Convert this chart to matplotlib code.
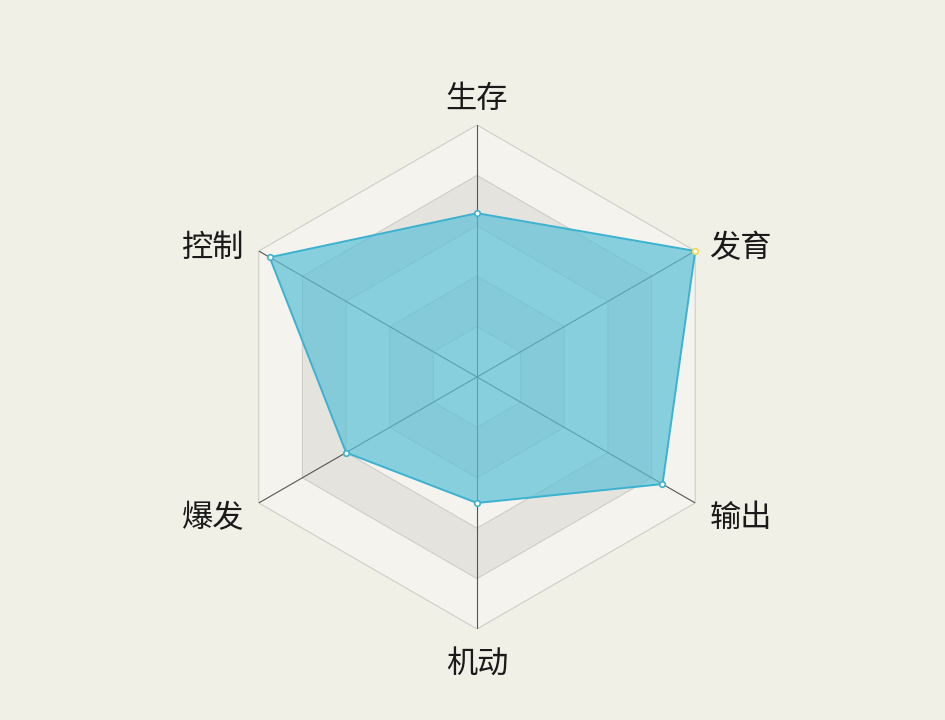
import matplotlib.pyplot as plt
import numpy as np

plt.rcParams['font.family'] = ['Noto Sans CJK SC', 'DejaVu Sans']

# axes clockwise from the top
labels = ['生存', '发育', '输出', '机动', '爆发', '控制']
values = [0.65, 1.0, 0.85, 0.50, 0.60, 0.95]
ring_levels = [0.2, 0.4, 0.6, 0.8, 1.0]
r_max = 1.0

bg = '#f1f0e7'
ring_light = '#f4f3ee'
ring_dark = '#e5e3dd'
fill_col = '#5bc0d8'
edge_col = '#3cb2d0'

fig = plt.figure(figsize=(9.4501, 7.2001), dpi=100, facecolor=bg)
ax = fig.add_axes([0.2381, 0.1264, 0.5333, 0.7], projection='polar')
ax.set_facecolor('none')
ax.set_theta_zero_location('N')
ax.set_theta_direction(-1)
ax.set_ylim(0, r_max)

n = len(labels)
theta = np.arange(n) * 2 * np.pi / n
theta_c = np.append(theta, theta[0])

# split areas, outermost first so inner rings paint over
for i, lv in reversed(list(enumerate(ring_levels))):
    col = ring_light if i % 2 == 0 else ring_dark
    ax.fill(theta_c, [lv] * (n + 1), color=col, lw=0, zorder=1)
for lv in ring_levels:
    ax.plot(theta_c, [lv] * (n + 1), color='#cfcdc6', lw=0.8, zorder=2)

# axis lines
for t in theta:
    ax.plot([t, t], [0, r_max], color='#555555', lw=0.8, zorder=3)

# data
v_c = np.append(values, values[0])
ax.fill(theta_c, v_c, color=fill_col, alpha=0.7, lw=0, zorder=4)
ax.plot(theta_c, v_c, color=edge_col, lw=1.4, zorder=5)
mcols = [edge_col] * n
mcols[1] = '#f2d94e'
for t, v, mc in zip(theta, values, mcols):
    ax.plot(t, v, 'o', ms=4, mfc='white', mec=mc, mew=1.2, zorder=6,
            clip_on=False)

# labels
offsets = [(0, 26), (14, 3), (14, -15), (0, -36), (-14, -15), (-14, 3)]
aligns = ['center', 'left', 'left', 'center', 'right', 'right']
for t, lab, off, ha in zip(theta, labels, offsets, aligns):
    ax.annotate(lab, xy=(t, r_max), xytext=off, textcoords='offset pixels',
                ha=ha, va='center', fontsize=22.5, color='#1a1a1a',
                annotation_clip=False)

ax.grid(False)
ax.set_xticks([])
ax.set_yticks([])
ax.spines['polar'].set_visible(False)

fig.savefig('out.png', dpi=100, facecolor=bg)
